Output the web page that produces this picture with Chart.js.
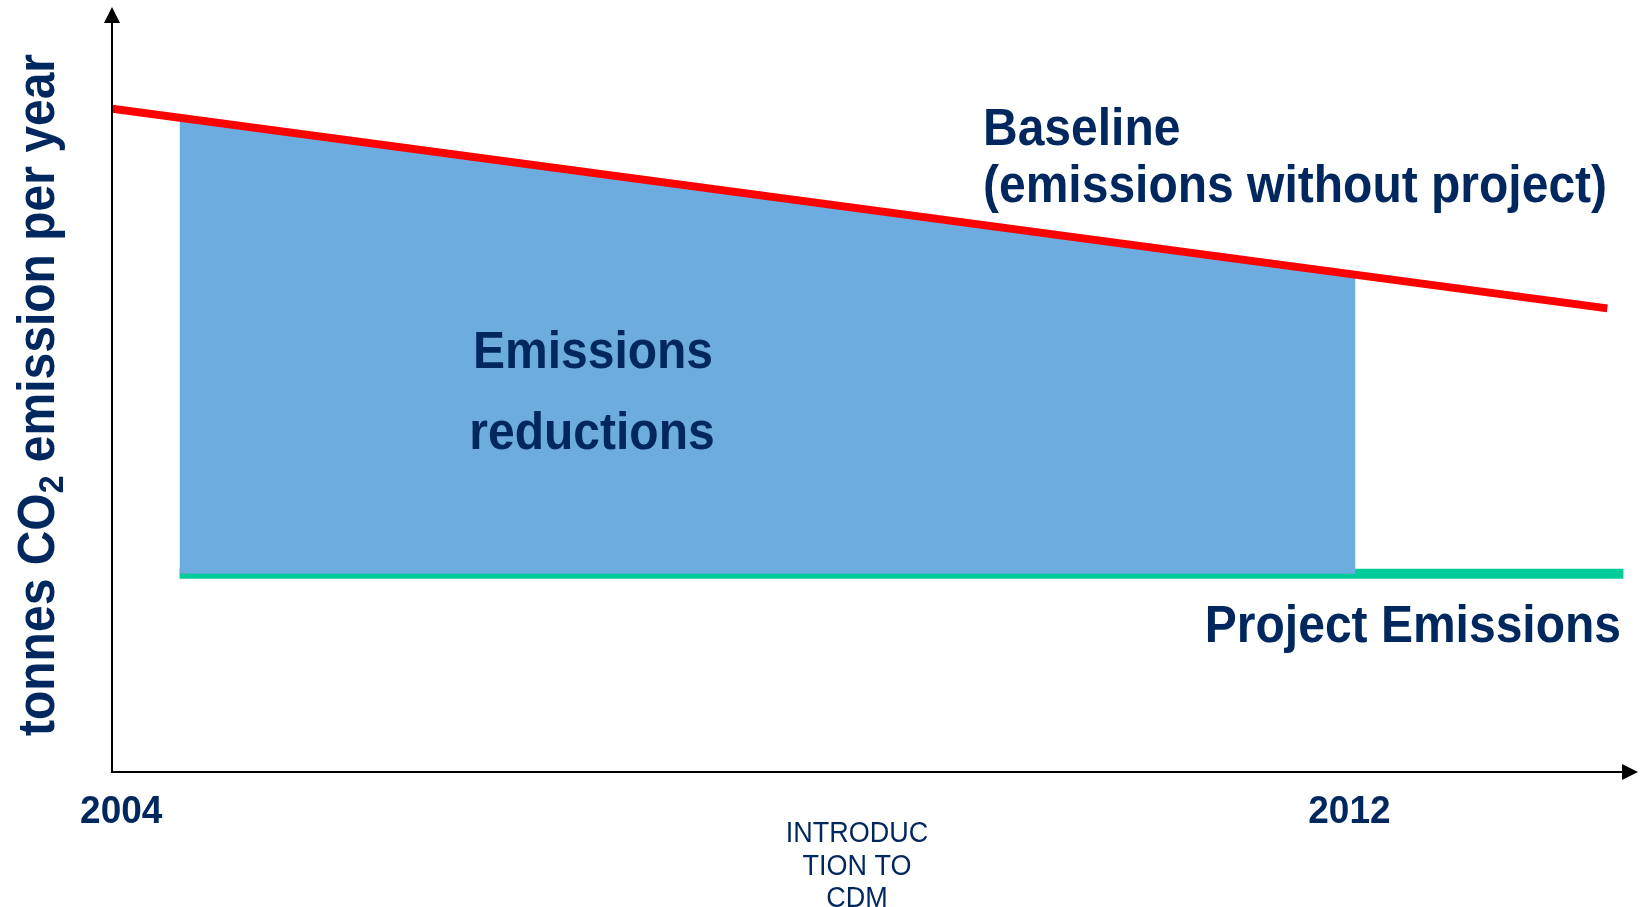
<!DOCTYPE html>
<html>
<head>
<meta charset="utf-8">
<title>CDM emissions reductions</title>
<script src="https://cdn.jsdelivr.net/npm/chart.js@4/dist/chart.umd.min.js"></script>
<style>
  html, body { margin: 0; padding: 0; background: #ffffff; }
  #wrap { width: 1640px; height: 907px; }
</style>
</head>
<body>
<div id="wrap"><canvas id="chart" width="1640" height="907"></canvas></div>
<script>
// Year ticks shown on the horizontal axis
const tickYears = [2004, 2012];

// Baseline: emissions without the project (tonnes CO2 per year, index units)
const baselineYears = [2003.94, 2013.68];
const baselineValues = [86.7, 60.6];

// Crediting period: reductions sit between the baseline and project emissions
const reductionYears = [2004.38, 2012.04];
const reductionTop = [85.5, 65.0];

// Project emissions
const projectYears = [2004.38, 2013.785];
const projectValues = [25.9, 25.9];

const NAVY = '#00285e';
const FONT = '"Liberation Sans", Arial, Helvetica, sans-serif';
const STRETCH = 1.07;   // glyphs are drawn slightly taller than wide

const toPoints = (xs, ys) => xs.map((x, i) => ({ x: x, y: ys[i] }));

function label(ctx, text, x, y, font, align) {
  ctx.save();
  ctx.translate(x, y);
  ctx.scale(1, STRETCH);
  ctx.font = font;
  ctx.textAlign = align;
  ctx.textBaseline = 'middle';
  ctx.fillText(text, 0, 0);
  ctx.restore();
}

// Axes with arrowheads, year labels and the text annotations
const decorations = {
  id: 'decorations',
  afterDatasetsDraw(chart) {
    const { ctx, chartArea: a, scales } = chart;
    const xs = scales.x;
    ctx.save();

    // axis lines
    ctx.strokeStyle = '#000';
    ctx.lineWidth = 2;
    ctx.beginPath();
    ctx.moveTo(a.left, a.top + 14);
    ctx.lineTo(a.left, a.bottom);
    ctx.lineTo(a.right - 14, a.bottom);
    ctx.stroke();

    // arrowheads
    ctx.fillStyle = '#000';
    ctx.beginPath();
    ctx.moveTo(a.left, a.top);
    ctx.lineTo(a.left - 8, a.top + 16);
    ctx.lineTo(a.left + 8, a.top + 16);
    ctx.closePath();
    ctx.fill();
    ctx.beginPath();
    ctx.moveTo(a.right, a.bottom);
    ctx.lineTo(a.right - 16, a.bottom - 8);
    ctx.lineTo(a.right - 16, a.bottom + 8);
    ctx.closePath();
    ctx.fill();

    ctx.fillStyle = NAVY;

    // year labels
    tickYears.forEach(y => {
      label(ctx, String(y), xs.getPixelForValue(y), a.bottom + 40, 'bold 37px ' + FONT, 'center');
    });

    // series annotations
    const bold = 'bold 48px ' + FONT;
    label(ctx, 'Baseline', 983, 131, bold, 'left');
    label(ctx, '(emissions without project)', 983, 188, bold, 'left');
    label(ctx, 'Emissions', 593, 354, bold, 'center');
    label(ctx, 'reductions', 592, 435, bold, 'center');
    label(ctx, 'Project Emissions', 1621, 628, bold, 'right');

    // footer caption
    const reg = '27px ' + FONT;
    label(ctx, 'INTRODUC', 857, 834, reg, 'center');
    label(ctx, 'TION TO', 857, 867, reg, 'center');
    label(ctx, 'CDM', 857, 899, reg, 'center');

    // vertical axis title with subscript
    ctx.translate(37, 395);
    ctx.rotate(-Math.PI / 2);
    ctx.scale(1, STRETCH);
    const big = 'bold 48px ' + FONT;
    const small = 'bold 32px ' + FONT;
    const p1 = 'tonnes CO', p2 = '2', p3 = ' emission per year';
    ctx.font = big;
    const w1 = ctx.measureText(p1).width;
    const w3 = ctx.measureText(p3).width;
    ctx.font = small;
    const w2 = ctx.measureText(p2).width;
    let x = -(w1 + w2 + w3) / 2;
    ctx.textAlign = 'left';
    ctx.textBaseline = 'alphabetic';
    ctx.font = big;
    ctx.fillText(p1, x, 16);
    x += w1;
    ctx.font = small;
    ctx.fillText(p2, x, 24);
    x += w2;
    ctx.font = big;
    ctx.fillText(p3, x, 16);

    ctx.restore();
  }
};

new Chart(document.getElementById('chart'), {
  type: 'line',
  data: {
    datasets: [
      {
        label: 'Baseline',
        data: toPoints(baselineYears, baselineValues),
        borderColor: '#ff0000',
        borderWidth: 8,
        pointRadius: 0,
        fill: false,
        order: 1
      },
      {
        label: 'Emissions reductions',
        data: toPoints(reductionYears, reductionTop),
        borderWidth: 0,
        borderColor: 'rgba(0,0,0,0)',
        backgroundColor: '#6dacde',
        pointRadius: 0,
        fill: { value: projectValues[0] },
        order: 2
      },
      {
        label: 'Project Emissions',
        data: toPoints(projectYears, projectValues),
        borderColor: '#00cc99',
        borderWidth: 10,
        pointRadius: 0,
        fill: false,
        order: 3
      }
    ]
  },
  options: {
    responsive: false,
    animation: false,
    layout: { padding: { left: 112, right: 2, top: 7, bottom: 135 } },
    plugins: {
      legend: { display: false },
      tooltip: { enabled: false },
      title: { display: false }
    },
    scales: {
      x: { type: 'linear', min: 2003.94, max: 2013.88, display: false },
      y: { type: 'linear', min: 0, max: 100, display: false }
    }
  },
  plugins: [decorations]
});
</script>
</body>
</html>
